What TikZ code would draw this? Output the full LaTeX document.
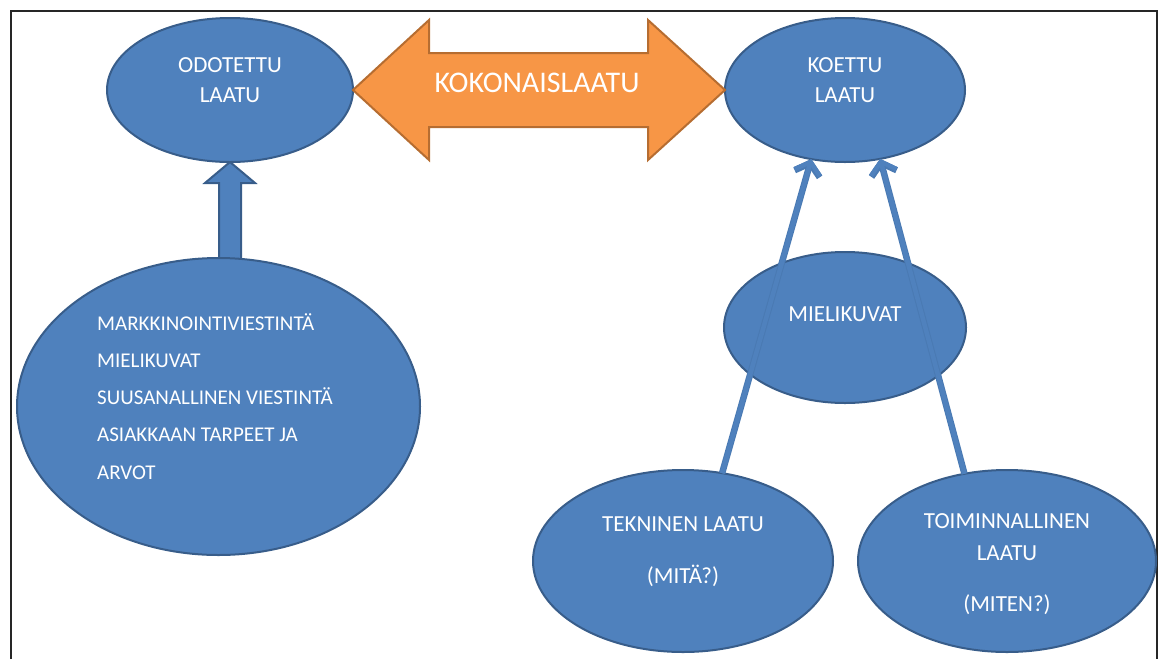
\documentclass[tikz,border=0pt]{standalone}
\usepackage{fontspec}
\setmainfont{Carlito}
\usetikzlibrary{shapes.geometric,calc,arrows.meta,backgrounds}
\definecolor{ovalblue}{HTML}{4F81BD}
\definecolor{ovalline}{HTML}{385D8A}
\definecolor{bigorange}{HTML}{F79646}
\definecolor{orangeline}{HTML}{B66D31}

\begin{document}
\begin{tikzpicture}[x=1pt,y=-1pt,
	oval/.style={ellipse, fill=ovalblue, draw=ovalline, line width=2pt, inner sep=0pt, outer sep=0pt},
	txt/.style={text=white, anchor=base, inner sep=0pt, font=\fontsize{23}{28}\selectfont},
	thinarrow/.style={draw=ovalblue, line width=4.5pt, -{Straight Barb[length=11pt,width=26pt]},
		preaction={draw=ovalblue!80!ovalline, line width=6.5pt}}]
	
	% Page
	\path[use as bounding box] (0,0) rectangle (1164,659);
	\draw[line width=2pt, black!85] (11,659) -- (11,11) -- (1157,11) -- (1157,659);
	
	%% TOP ROW
	\node[oval, minimum width=246pt, minimum height=144pt] (odotettu) at (230,90) {};
	\node[oval, minimum width=240pt, minimum height=144pt] (koettu) at (845,90) {};
	\node[txt] (odotettu1) at (230,72) {ODOTETTU};
	\node[txt] (odotettu2) at (230,102) {LAATU};
	\node[txt] (koettu1) at (845,72) {KOETTU};
	\node[txt] (koettu2) at (845,102) {LAATU};
	
	% Double arrow between
	\draw[fill=bigorange, draw=orangeline, line width=2pt, line join=miter]
		(odotettu.east) -- ++(76,-70) -- ++(0,33) -- ($(koettu.west)+(-77,-37)$) -- ++(0,-33)
		-- (koettu.west) -- ++(-77,70) -- ++(0,-33) -- ($(odotettu.east)+(76,37)$) -- ++(0,33) -- cycle;
	\node[txt, font=\fontsize{30}{36}\selectfont] (kokonais) at (537,92) {KOKONAISLAATU};
	
	%% LEFT SIDE
	\node[oval, minimum width=403pt, minimum height=297pt] (odotteet) at (218.5,406.5) {};
	\foreach \rivi [count=\i] in {MARKKINOINTIVIESTINTÄ, MIELIKUVAT, SUUSANALLINEN VIESTINTÄ, ASIAKKAAN TARPEET JA, ARVOT}
	{
		\node[txt, anchor=base west, font=\fontsize{21}{25}\selectfont] (odote\i) at (97,{330+37.25*(\i-1)}) {\rivi};
	}
	
	% Block arrow up
	\begin{pgfonlayer}{background}
	\draw[fill=ovalblue, draw=ovalline, line width=2pt, line join=miter]
		(odotettu.south) -- ++(25,21) -- ++(-14,0) -- ($(odotettu.south |- odotteet.north)+(11,2)$)
		-- ++(-22,0) -- ++(0,-77) -- ++(-14,0) -- cycle;
	\end{pgfonlayer}
	
	%% RIGHT SIDE
	\node[oval, minimum width=242pt, minimum height=151pt] (mielikuvat) at (845,327.5) {};
	\node[txt] (mielikuvat1) at (845,321) {MIELIKUVAT};
	
	\node[oval, minimum width=300pt, minimum height=182pt] (tekninen) at (683,561) {};
	\node[txt] (tekninen1) at (683,531) {TEKNINEN LAATU};
	\node[txt] (tekninen2) at (683,583) {(MITÄ?)};
	
	\node[oval, minimum width=298pt, minimum height=182pt] (toiminnallinen) at (1007,561) {};
	\node[txt] (toiminnallinen1) at (1007,528) {TOIMINNALLINEN};
	\node[txt] (toiminnallinen2) at (1007,560) {LAATU};
	\node[txt] (toiminnallinen3) at (1007,611) {(MITEN?)};
	
	% Arrows up to koettu laatu
	\draw[thinarrow] (tekninen.66) -- (koettu.244);
	\draw[thinarrow] (toiminnallinen.116) -- (koettu.297);
	
\end{tikzpicture}
\end{document}
